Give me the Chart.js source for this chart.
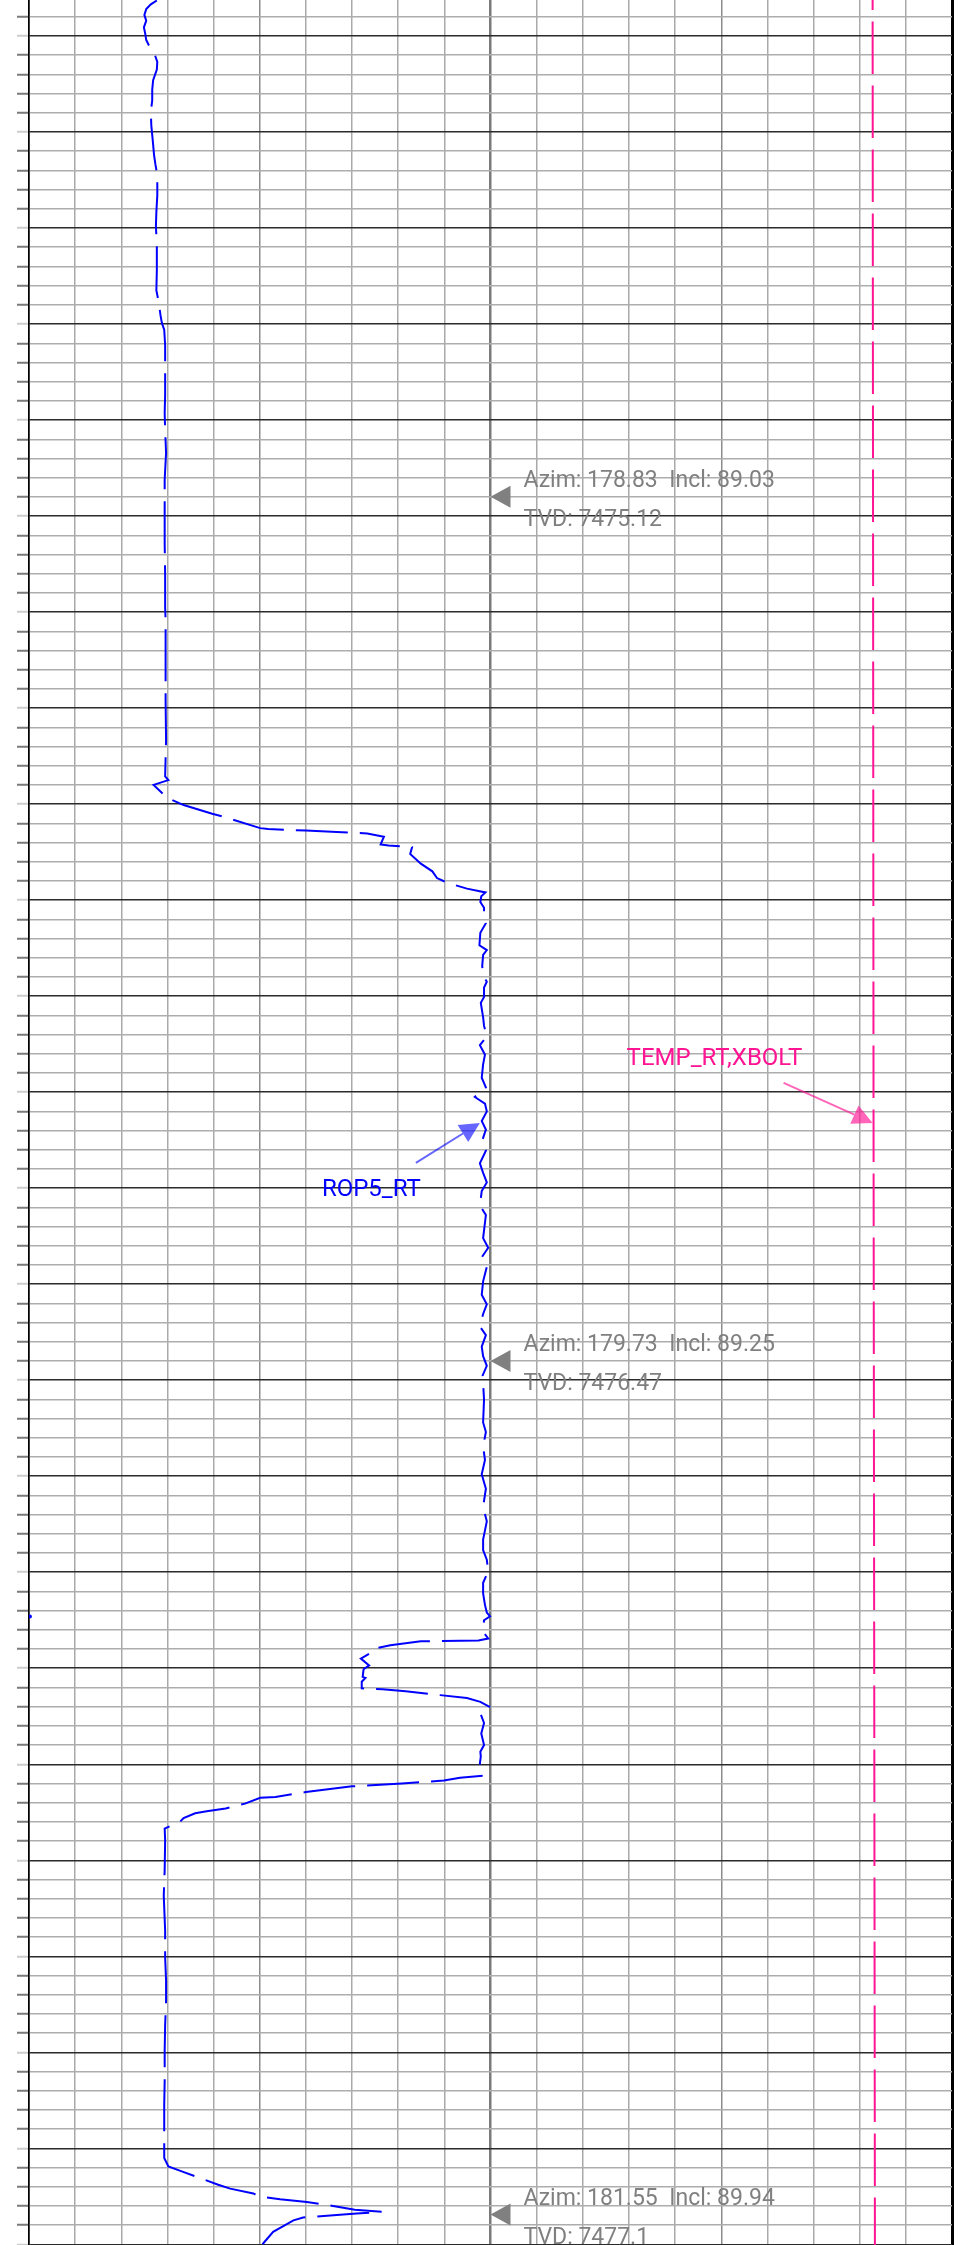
<!DOCTYPE html>
<html>
<head>
<meta charset="utf-8">
<title>ROP5_RT / TEMP_RT,XBOLT</title>
<script src="https://cdn.jsdelivr.net/npm/chart.js@4/dist/chart.umd.min.js"></script>
<style>
  html, body { margin: 0; padding: 0; background: #fff; }
  canvas { display: block; }
</style>
</head>
<body>
<canvas id="pista" width="963" height="2245"></canvas>
<script>
// ventana de profundidad de la pista (ft MD)
var depthTop = 14276.25;
var depthBottom = 14510.07;
var depthStep = 2;   // linea fina cada 2 ft
var depthMajor = 10; // linea gruesa cada 10 ft

// ROP5_RT (escala 0-200) contra profundidad
var ropDepth = [
  14276.3, 14276.7, 14277.2, 14277.8, 14278.4, 14279.1, 14279.8, 14280.4, 14281.4, 14282.0,
  14282.7, 14283.5, 14284.6, 14285.6, 14286.7, 14287.9, 14289.3, 14290.8, 14292.4, 14293.4,
  14294.5, 14296.6, 14298.3, 14299.8, 14301.8, 14304.4, 14306.5, 14307.7, 14309.1, 14309.9,
  14310.6, 14312.2, 14314.3, 14317.4, 14319.3, 14321.0, 14323.4, 14326.2, 14329.4, 14332.8,
  14336.1, 14339.5, 14340.8, 14344.0, 14349.2, 14353.3, 14357.1, 14357.5, 14358.0, 14359.0,
  14359.4, 14360.1, 14361.0, 14361.3, 14362.5, 14362.6, 14362.75, 14362.9, 14363.05, 14363.4,
  14364.2, 14364.3, 14364.4, 14364.5, 14365.2, 14366.2, 14367.0, 14367.7, 14368.2, 14368.8,
  14369.2, 14369.6, 14370.2, 14370.8, 14371.7, 14372.4, 14373.4, 14374.7, 14375.2, 14375.7,
  14376.9, 14378.0, 14378.5, 14379.1, 14380.1, 14380.7, 14382.2, 14383.1, 14384.2, 14385.1,
  14386.1, 14387.1, 14388.5, 14389.5, 14390.5, 14391.2, 14392.0, 14393.0, 14393.9, 14395.2,
  14396.1, 14397.4, 14398.4, 14399.4, 14400.3, 14401.8, 14402.8, 14405.2, 14406.2, 14407.2,
  14408.2, 14409.7, 14411.1, 14412.1, 14413.1, 14414.4, 14415.3, 14416.5, 14417.5, 14418.5,
  14419.5, 14422.0, 14424.4, 14425.4, 14426.9, 14428.3, 14429.8, 14431.3, 14433.2, 14434.7,
  14436.6, 14437.7, 14438.7, 14439.9, 14441.1, 14442.2, 14443.4, 14444.2, 14444.6, 14445.0,
  14446.2, 14446.9, 14447.1, 14447.2, 14447.6, 14448.0, 14448.4, 14449.0, 14449.7, 14450.1,
  14450.9, 14451.0, 14451.4, 14452.1, 14452.2, 14452.4, 14452.8, 14453.1, 14453.5, 14454.0,
  14454.7, 14455.7, 14456.8, 14458.0, 14458.7, 14459.2, 14459.9, 14460.6, 14461.2, 14461.4,
  14461.7, 14462.0, 14462.3, 14462.9, 14463.4, 14463.5, 14464.1, 14464.6, 14464.9, 14465.1,
  14465.6, 14466.0, 14466.7, 14467.9, 14471.0, 14473.7, 14477.3, 14480.1, 14482.5, 14484.6,
  14487.2, 14489.8, 14492.9, 14495.5, 14501.0, 14501.9, 14502.4, 14503.1, 14503.8, 14504.2,
  14504.7, 14505.0, 14505.3, 14505.6, 14506.0, 14506.2, 14506.4, 14506.6, 14506.8, 14506.9,
  14507.2, 14507.5, 14508.1, 14508.7, 14510.1, 14511.0
];
var ropValue = [
  27.7, 26.4, 25.4, 25.0, 25.4, 24.9, 25.2, 25.4, 26.4, 27.3,
  27.8, 27.7, 26.9, 26.7, 26.7, 26.4, 26.5, 26.8, 27.1, 27.4,
  27.8, 27.8, 27.6, 27.5, 27.7, 27.7, 27.6, 28.1, 28.5, 28.8,
  29.3, 29.5, 29.5, 29.5, 29.4, 29.5, 29.7, 29.4, 29.4, 29.4,
  29.5, 29.5, 29.6, 29.6, 29.6, 29.7, 29.5, 30.2, 27.0, 29.2,
  30.2, 33.5, 39.7, 42.0, 50.1, 51.8, 60.0, 66.7, 73.3, 76.9,
  76.2, 77.9, 80.8, 83.0, 82.6, 84.9, 87.4, 88.4, 90.7, 94.9,
  98.9, 98.0, 97.8, 98.6, 98.6, 99.0, 97.8, 97.6, 99.2, 98.4,
  98.2, 98.6, 99.2, 98.6, 98.6, 97.9, 98.4, 98.6, 99.2, 97.7,
  98.8, 98.4, 98.1, 99.0, 96.6, 98.8, 99.2, 98.1, 99.0, 98.1,
  99.0, 97.7, 98.4, 99.2, 98.1, 97.7, 99.0, 98.4, 99.5, 98.1,
  99.2, 98.4, 98.1, 99.2, 98.4, 97.7, 99.0, 98.1, 98.4, 99.2,
  98.3, 98.6, 98.4, 99.0, 98.4, 98.8, 98.1, 99.0, 98.4, 99.2,
  98.4, 98.4, 99.2, 99.5, 98.4, 98.4, 98.8, 99.2, 99.9, 98.6,
  98.4, 99.5, 97.4, 84.9, 78.3, 74.5, 74.0, 71.9, 73.7, 72.5,
  72.3, 72.9, 72.1, 72.1, 76.6, 81.6, 89.1, 94.9, 97.8, 99.7,
  97.8, 98.6, 98.0, 98.6, 97.8, 97.9, 97.7, 98.0, 98.4, 93.4,
  89.9, 80.8, 70.0, 60.0, 53.4, 50.1, 46.8, 42.6, 38.5, 36.0,
  33.5, 32.7, 29.4, 29.5, 29.4, 29.2, 29.5, 29.5, 29.7, 29.7,
  29.5, 29.4, 29.4, 29.3, 29.3, 30.2, 33.1, 37.1, 41.0, 43.6,
  48.6, 49.9, 54.4, 60.2, 65.9, 68.1, 70.6, 76.4, 71.0, 68.1,
  59.4, 57.3, 55.1, 52.9, 50.4, 48.5
];

// muestra suelta de ROP pegada al borde izquierdo
var ropSueltaDepth = [14444.6];
var ropSueltaValue = [0.2];

// TEMP_RT,XBOLT (escala 0-200)
var tempDepth = [14276.25, 14393.2, 14510.07];
var tempValue = [182.8, 183.0, 183.3];

// estaciones de survey
var surveyDepth = [14328.0, 14418.0, 14506.9];
var surveyAzim = [178.83, 179.73, 181.55];
var surveyIncl = [89.03, 89.25, 89.94];
var surveyTvd = [7475.12, 7476.47, 7477.1];
var surveyTrackValue = 100; // centro de la pista

// etiquetas de curva
var curvaNombres = ['ROP5_RT', 'TEMP_RT,XBOLT'];
var curvaDepth = [14393.2, 14393.2];
var curvaValor = [97.7, 182.8];

function juntar(ds, vs) {
  return ds.map(function(d, i) { return { x: vs[i], y: d }; });
}

function flecha(ctx, x0, y0, x1, y1, color) {
  var ang = Math.atan2(y1 - y0, x1 - x0);
  var bx = x1 - 20 * Math.cos(ang), by = y1 - 20 * Math.sin(ang);
  ctx.strokeStyle = color;
  ctx.fillStyle = color;
  ctx.lineWidth = 2;
  ctx.beginPath();
  ctx.moveTo(x0, y0);
  ctx.lineTo(bx, by);
  ctx.stroke();
  ctx.beginPath();
  ctx.moveTo(x1, y1);
  ctx.lineTo(bx + 10 * Math.sin(ang), by - 10 * Math.cos(ang));
  ctx.lineTo(bx - 10 * Math.sin(ang), by + 10 * Math.cos(ang));
  ctx.closePath();
  ctx.fill();
}

var anotaciones = {
  id: 'anotaciones',
  afterDatasetsDraw: function(chart) {
    var ctx = chart.ctx;
    var x = chart.scales.x, xt = chart.scales.xt, y = chart.scales.y;
    ctx.save();

    // surveys
    ctx.font = '23px Roboto';
    ctx.textBaseline = 'alphabetic';
    ctx.fillStyle = '#808080';
    for (var i = 0; i < surveyDepth.length; i++) {
      var px = x.getPixelForValue(surveyTrackValue);
      var py = y.getPixelForValue(surveyDepth[i]);
      ctx.beginPath();
      ctx.moveTo(px, py);
      ctx.lineTo(px + 20, py - 11);
      ctx.lineTo(px + 20, py + 11);
      ctx.closePath();
      ctx.fill();
      ctx.fillText('Azim: ' + surveyAzim[i].toFixed(2) + '  Incl: ' + surveyIncl[i].toFixed(2), px + 33, py - 10);
      ctx.fillText('TVD: ' + surveyTvd[i], px + 33, py + 29);
    }

    // ROP5_RT
    ctx.font = '24px Roboto';
    var tx = x.getPixelForValue(curvaValor[0]);
    var ty = y.getPixelForValue(curvaDepth[0]);
    flecha(ctx, tx - 64, ty + 40, tx, ty, 'rgba(0,0,255,0.6)');
    ctx.fillStyle = '#0000ff';
    ctx.fillText(curvaNombres[0], tx - 158, ty + 73);

    // TEMP_RT,XBOLT
    tx = xt.getPixelForValue(curvaValor[1]);
    ty = y.getPixelForValue(curvaDepth[1]);
    flecha(ctx, tx - 89, ty - 40, tx, ty, 'rgba(255,20,147,0.65)');
    ctx.fillStyle = '#ff1493';
    ctx.fillText(curvaNombres[1], tx - 246, ty - 58);

    ctx.restore();
  }
};

window.onload = function() {
  var ctx = document.getElementById('pista').getContext('2d');

  var data = {
    datasets: [
      {
        label: 'ROP5_RT',
        data: juntar(ropDepth, ropValue),
        xAxisID: 'x',
        yAxisID: 'y',
        showLine: true,
        borderColor: '#0000ff',
        borderWidth: 2,
        borderDash: [52, 12],
        pointRadius: 0,
        tension: 0,
        fill: false
      },
      {
        label: 'ROP5_RT suelta',
        data: juntar(ropSueltaDepth, ropSueltaValue),
        xAxisID: 'x',
        yAxisID: 'y',
        showLine: false,
        pointRadius: 2,
        pointBorderWidth: 0,
        pointBackgroundColor: '#0000ff'
      },
      {
        label: 'TEMP_RT,XBOLT',
        data: juntar(tempDepth, tempValue),
        xAxisID: 'xt',
        yAxisID: 'y',
        showLine: true,
        borderColor: '#ff1493',
        borderWidth: 2,
        borderDash: [52.5, 11.5],
        borderDashOffset: 42.5,
        pointRadius: 0,
        fill: false
      }
    ]
  };

  var options = {
    responsive: false,
    maintainAspectRatio: false,
    animation: false,
    devicePixelRatio: 1,
    events: [],
    layout: { autoPadding: false, padding: { left: 17, right: 11, top: 0, bottom: 0 } },
    scales: {
      x: {
        type: 'linear',
        position: 'bottom',
        min: 0,
        max: 200,
        ticks: { display: false, stepSize: 10 },
        grid: {
          drawTicks: false,
          color: function(c) {
            var v = c.tick ? c.tick.value : 0;
            if (v === 0 || v === 200) return '#000';
            if (v === 100) return '#7a7a7a';
            if (v % 50 === 0) return '#8c8c8c';
            return '#a9a9a9';
          },
          lineWidth: function(c) {
            var v = c.tick ? c.tick.value : 0;
            if (v === 200) return 3;
            if (v === 100) return 2.5;
            return 1.5;
          }
        },
        border: { display: false }
      },
      xt: {
        type: 'linear',
        display: false,
        min: 0,
        max: 200
      },
      y: {
        type: 'linear',
        position: 'left',
        reverse: true,
        bounds: 'data',
        min: depthTop,
        max: depthBottom,
        afterBuildTicks: function(scale) {
          var t = [];
          for (var d = Math.ceil(depthTop / depthStep) * depthStep; d <= depthBottom; d += depthStep) {
            t.push({ value: d });
          }
          scale.ticks = t;
        },
        ticks: { display: false },
        grid: {
          tickLength: 12,
          tickWidth: 2,
          color: function(c) {
            var v = c.tick ? c.tick.value : 0;
            return v % depthMajor === 0 ? '#2b2b2b' : '#adadad';
          },
          lineWidth: 1.5,
          tickColor: function(c) {
            var v = c.tick ? c.tick.value : 0;
            return v % depthMajor === 0 ? '#cccccc' : '#7a7a7a';
          }
        },
        border: { display: true, color: '#000', width: 1.5 }
      }
    },
    plugins: {
      legend: { display: false },
      tooltip: { enabled: false }
    }
  };

  new Chart(ctx, {
    type: 'scatter',
    data: data,
    options: options,
    plugins: [anotaciones]
  });
};
</script>
</body>
</html>
